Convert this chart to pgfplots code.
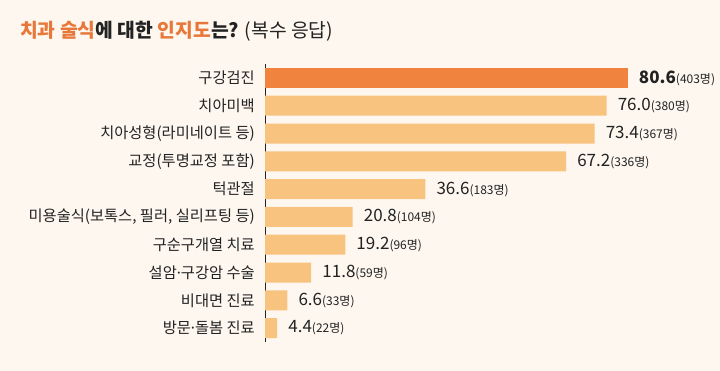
\documentclass[border=0pt]{standalone}
\usepackage{pgfplots}
\pgfplotsset{compat=1.18}
\usepackage{pgfplotstable}
\usepackage{fontspec}
\setmainfont{Noto Sans CJK KR}
\newfontfamily\latinfont{Noto Sans}
\newcommand{\md}{{\latinfont ·}}
\definecolor{bg}{HTML}{FDF7EF}
\definecolor{hi}{HTML}{F0843F}
\definecolor{lo}{HTML}{F8C27F}
\definecolor{ttl}{HTML}{E8773A}
\definecolor{txt}{HTML}{222222}

\pgfplotstableread{
idx val cnt
0 80.6 403
}\topdata
\pgfplotstableread{
idx val cnt
1 76.0 380
2 73.4 367
3 67.2 336
4 36.6 183
5 20.8 104
6 19.2 96
7 11.8 59
8 6.6 33
9 4.4 22
}\restdata

\begin{document}
\begin{tikzpicture}
\fill[bg] (0,0) rectangle (720bp,371bp);
\node[anchor=west, inner sep=0pt, font=\fontsize{19.3bp}{22bp}\selectfont] at (20bp,340bp)
 {{\bfseries\color{ttl}치과 술식}{\bfseries\color{txt}에 대한 }{\bfseries\color{ttl}인지도}{\bfseries\color{txt}는?} {\color{txt}(복수 응답)}};
\begin{axis}[
 at={(265bp,29bp)}, anchor=south west, scale only axis,
 width=455bp, height=278bp,
 xmin=1.75, xmax=100.66, ymin=-0.5, ymax=9.5, y dir=reverse,
 xbar, bar width=20bp, bar shift=0pt,
 axis x line=none, axis y line=left,
 axis line style={-, draw=txt, line width=0.8bp},
 ytick={0,...,9},
 yticklabels={구강검진,치아미백,치아성형(라미네이트 등),교정(투명교정 포함),턱관절,{미용술식(보톡스, 필러, 실리프팅 등)},구순구개열 치료,설암\md 구강암 수술,비대면 진료,방문\md 돌봄 진료},
 major tick length=0pt,
 yticklabel style={font=\fontsize{15.3bp}{18bp}\selectfont, text=txt, anchor=east, inner sep=0pt, xshift=-10bp},
 point meta=x,
 /pgf/number format/assume math mode=true,
 nodes near coords style={anchor=west, inner sep=0pt, xshift=11bp, text=txt},
]
\addplot[fill=hi, draw=none,
 visualization depends on={\thisrow{cnt}\as\cnt},
 nodes near coords={{\fontsize{17bp}{19bp}\selectfont\bfseries\pgfmathprintnumber[fixed,fixed zerofill,precision=1]{\pgfplotspointmeta}}{\fontsize{12bp}{14bp}\selectfont(\pgfmathprintnumber[fixed,precision=0]{\cnt}명)}}]
 table[x=val,y=idx]{\topdata};
\addplot[fill=lo, draw=none,
 visualization depends on={\thisrow{cnt}\as\cnt},
 nodes near coords={{\fontsize{17bp}{19bp}\selectfont\pgfmathprintnumber[fixed,fixed zerofill,precision=1]{\pgfplotspointmeta}}{\fontsize{12bp}{14bp}\selectfont(\pgfmathprintnumber[fixed,precision=0]{\cnt}명)}}]
 table[x=val,y=idx]{\restdata};
\end{axis}
\pgfresetboundingbox
\useasboundingbox (0,0) rectangle (720bp,371bp);
\end{tikzpicture}
\end{document}
